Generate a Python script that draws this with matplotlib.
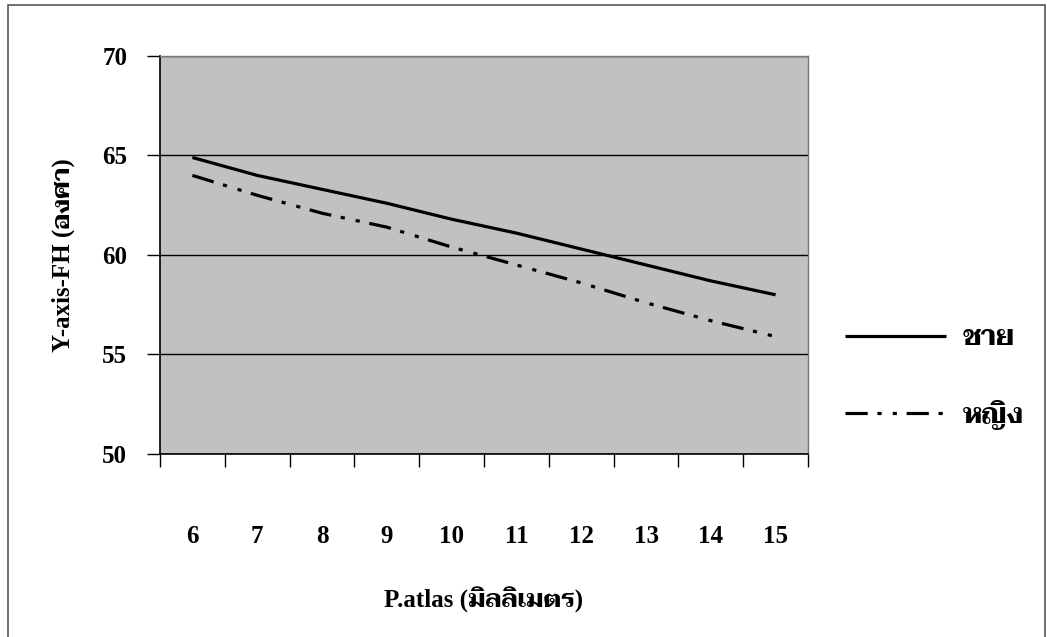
import matplotlib
matplotlib.use("Agg")
import matplotlib.pyplot as plt
from matplotlib.patches import Rectangle
from matplotlib.ticker import FixedLocator, NullFormatter, FixedFormatter
import logging

logging.getLogger("matplotlib.font_manager").setLevel(logging.ERROR)

# P.atlas size (mm) and Y-axis-FH angle (degrees) by sex
p_atlas = [6, 7, 8, 9, 10, 11, 12, 13, 14, 15]
male = [64.9, 64.0, 63.3, 62.6, 61.8, 61.1, 60.3, 59.5, 58.7, 58.0]
female = [64.0, 63.0, 62.1, 61.4, 60.4, 59.5, 58.6, 57.6, 56.7, 55.9]
series_labels = ["ชาย", "หญิง"]
x_title = "P.atlas (มิลลิเมตร)"
y_title = "Y-axis-FH (องศา)"
y_ticks = [50, 55, 60, 65, 70]

FONTS = ["Liberation Serif", "Taviraj", "Sarabun", "Maitree", "DejaVu Serif"]
plt.rcParams["font.family"] = FONTS
plt.rcParams["font.weight"] = "bold"
plt.rcParams["lines.scale_dashes"] = False

W, H = 1047, 637
fig = plt.figure(figsize=(W / 100, H / 100), dpi=100)
fig.patch.set_facecolor("white")

# outer chart frame
fig.patches.append(Rectangle((8 / W, -0.05), (1045 - 8) / W, 1.05 - 5 / H,
                             transform=fig.transFigure, fill=False,
                             edgecolor="#555555", linewidth=1.2))

left, right, top, bottom = 160, 808, 56, 454
ax = fig.add_axes([left / W, 1 - bottom / H, (right - left) / W, (bottom - top) / H])
ax.set_facecolor("#c1c1c1")

pos = list(range(len(p_atlas)))
ax.plot(pos, male, color="black", linewidth=2.3, solid_capstyle="butt",
        label=series_labels[0])
ax.plot(pos, female, color="black", linewidth=2.3, dash_capstyle="butt",
        dashes=[16, 7, 3, 8, 3, 7], label=series_labels[1])

ax.set_xlim(-0.5, len(p_atlas) - 0.5)
ax.set_ylim(y_ticks[0], y_ticks[-1])

# y axis: ticks, labels and horizontal gridlines
ax.set_yticks(y_ticks)
ax.set_yticklabels([str(v) for v in y_ticks])
ax.tick_params(axis="y", direction="out", length=9.5, width=1.0, pad=14,
               labelsize=18)
ax.grid(axis="y", color="black", linewidth=1.0)
ax.set_axisbelow(True)

# x axis: boundary ticks between categories, labels at category centres
ax.xaxis.set_major_locator(FixedLocator([i - 0.5 for i in range(len(p_atlas) + 1)]))
ax.xaxis.set_major_formatter(NullFormatter())
ax.xaxis.set_minor_locator(FixedLocator(pos))
ax.xaxis.set_minor_formatter(FixedFormatter([str(v) for v in p_atlas]))
ax.tick_params(axis="x", which="major", direction="out", length=9.5, width=1.0)
ax.tick_params(axis="x", which="minor", length=0, pad=51, labelsize=18)

for s in ("left", "bottom"):
    ax.spines[s].set_color("black")
    ax.spines[s].set_linewidth(1.2)
for s in ("top", "right"):
    ax.spines[s].set_color("#7a7a7a")
    ax.spines[s].set_linewidth(1.0)

ax.set_xlabel(x_title, fontsize=18, fontweight="bold", labelpad=28)
ax.set_ylabel(y_title, fontsize=18, fontweight="bold", labelpad=20)

fig.legend(loc="center left", bbox_to_anchor=(845 / W, 1 - 378 / H),
           frameon=False, fontsize=20, handlelength=3.65, handletextpad=0.6,
           labelspacing=1.75, borderaxespad=0, borderpad=0)

fig.savefig("out.png", dpi=100, facecolor="white")
